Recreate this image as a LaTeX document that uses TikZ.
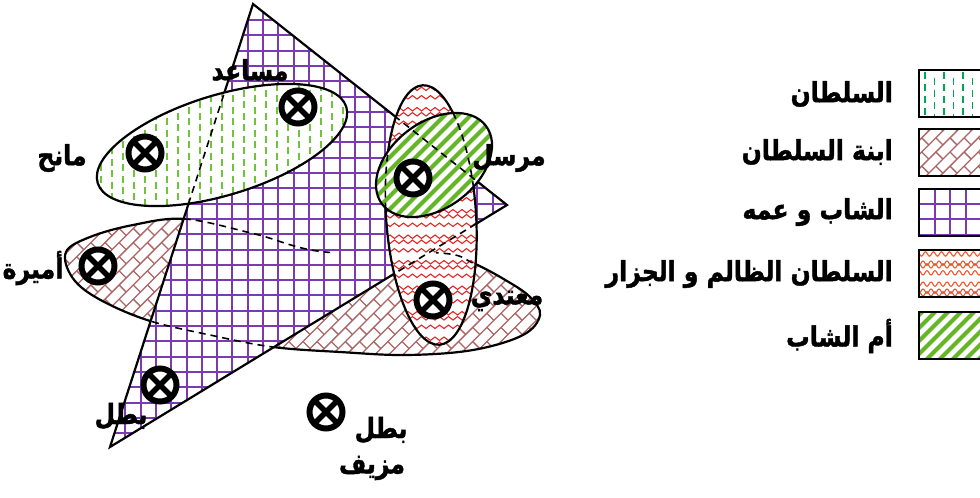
\documentclass[tikz,border=0pt]{standalone}
\usepackage{fontspec}
\usepackage{graphicx}
\newfontfamily\arabicfont[Script=Arabic, BoldFeatures={FakeBold=1.6}]{DejaVu Sans}
\TeXXeTstate=1
\usetikzlibrary{decorations.pathmorphing}
\newcommand\artxt[1]{\scalebox{1}[1.18]{\beginR #1\endR}}
\definecolor{sgreen}{RGB}{112,196,60}
\definecolor{sgreenL}{RGB}{0,166,81}
\definecolor{brickc}{RGB}{172,100,100}
\definecolor{gridc}{RGB}{122,58,178}
\definecolor{wavec}{RGB}{228,40,40}
\definecolor{wavecL}{RGB}{245,85,45}
\definecolor{stripec}{RGB}{100,182,38}
\tikzset{
  outline/.style={draw=black, line width=2.2pt},
  hid/.style={draw=black, line width=1.6pt, dash pattern=on 7pt off 5pt},
  legbox/.style={draw=black, line width=2.6pt},
  otimes/.style={circle, draw=black, line width=6pt, fill=white, minimum size=33pt, inner sep=0pt,
    path picture={\draw[line width=5.5pt] (path picture bounding box.north west) -- (path picture bounding box.south east)
      (path picture bounding box.north east) -- (path picture bounding box.south west);}},
  lbl/.style={font=\arabicfont\bfseries\fontsize{23.5pt}{26pt}\selectfont, inner sep=0pt},
  brickline/.style={draw=brickc, line width=1.3pt},
  gridline/.style={draw=gridc, line width=2pt},
  waveline/.style={draw=wavec, line width=1.1pt, decorate, decoration={snake, segment length=9pt, amplitude=1.7pt}},
  stripeline/.style={draw=stripec, line width=4pt},
  sdashline/.style={draw=sgreen, line width=1.5pt, dash pattern=on 7pt off 4.5pt},
}
\begin{document}
\begin{tikzpicture}[x=1pt,y=-1pt]
\useasboundingbox (0,0) rectangle (980,498);
\coordinate (tA) at (253,4);
\coordinate (tB) at (507,205);
\coordinate (tC) at (110,447);
\def\triP{(tA) -- (tB) -- (tC) -- cycle}
\def\brownP{plot[smooth cycle, tension=0.6] coordinates {(66,252) (90,237) (133,225) (185,219) (255,234) (325,252) (440,253) (473,263) (507,281) (530,297) (540,315) (523,335) (473,350) (407,355) (340,352) (273,347) (210,335) (147,320) (97,298) (72,277)}}
\def\sultanE{[rotate around={17:(222,145)}] (222,145) ellipse [x radius=130pt, y radius=50pt]}
\def\redE{[rotate around={3.7:(431,215)}] (431,215) ellipse [x radius=45pt, y radius=130pt]}
\def\motherE{[rotate around={37:(434,165)}] (434,165) ellipse [x radius=65pt, y radius=43pt]}

% ---- brown (ابنة السلطان)
\fill[white] \brownP;
\begin{scope}
  \clip \brownP;
  \begin{scope}[shift={(303,285)}, rotate=45]
    \path[brickline] foreach \j in {-26,...,26} {(-260,\j*10) -- (260,\j*10)};
    \path[brickline] foreach \j in {-26,-24,...,26} { foreach \i in {-13,...,13} {(\i*20,\j*10) -- ++(0,10)} };
    \path[brickline] foreach \j in {-25,-23,...,25} { foreach \i in {-13,...,13} {(\i*20+10,\j*10) -- ++(0,10)} };
  \end{scope}
\end{scope}
\draw[outline] \brownP;

% ---- triangle (الشاب و عمه)
\fill[white] \triP;
\begin{scope}
  \clip \triP;
  \path[gridline] foreach \k in {6,...,34} {(2.9+\k*15.3,0) -- (2.9+\k*15.3,460)};
  \path[gridline] foreach \k in {0,...,30} {(90,4.7+\k*15.3) -- (520,4.7+\k*15.3)};
\end{scope}
\draw[outline] \triP;
\begin{scope}
  \clip (0,0) rectangle (330,498);
  \clip \triP;
  \draw[hid] \brownP;
\end{scope}

% ---- sultan ellipse (السلطان)
\fill[white] \sultanE;
\begin{scope}
  \clip \sultanE;
  \path[sdashline] foreach \k in {-14,-12,...,14} {(222+\k*11,78) -- (222+\k*11,215)};
  \path[sdashline] foreach \k in {-13,-11,...,13} {(222+\k*11,83.75) -- (222+\k*11,215)};
  \draw[hid] \triP;
\end{scope}
\draw[outline] \sultanE;

% ---- red ellipse (السلطان الظالم و الجزار)
\fill[white] \redE;
\begin{scope}
  \clip \redE;
  \path[waveline] foreach \j in {0,...,33} {(372,82+\j*8.5) -- (492,82+\j*8.5)};
  \draw[hid] \triP;
\end{scope}
\begin{scope}
  \clip (436,0) rectangle (600,498);
  \clip \redE;
  \draw[hid] \brownP;
\end{scope}
\draw[outline] \redE;

% ---- mother ellipse (أم الشاب)
\fill[white] \motherE;
\begin{scope}
  \clip \motherE;
  \path[stripeline] foreach \k in {-14,...,14} {(434+\k*13-110,165+110) -- ++(220,-220)};
  \draw[hid] \triP;
  \draw[hid] \redE;
\end{scope}
\draw[outline] \motherE;

% ---- markers
\node[otimes] (m1) at (298,107) {};
\node[otimes] (m2) at (145,153) {};
\node[otimes] (m3) at (413,178) {};
\node[otimes] (m4) at (98,266) {};
\node[otimes] (m5) at (433,300) {};
\node[otimes] (m6) at (160,385) {};
\node[otimes] (m7) at (326,412) {};

% ---- labels
\node[lbl] (l1) at (250,70) {\artxt{مساعد}};
\node[lbl] (l2) at (62,158) {\artxt{مانح}};
\node[lbl] (l3) at (509,158) {\artxt{مرسل}};
\node[lbl] (l4) at (33,268) {\artxt{أميرة}};
\node[lbl] (l5) at (507,301) {\artxt{معتدي}};
\node[lbl] (l6) at (121,416) {\artxt{بطل}};
\node[lbl] (l7) at (381,430) {\artxt{بطل}};
\node[lbl] (l8) at (372,468) {\artxt{مزيف}};

% ---- legend
\begin{scope}
  \clip (919,70) rectangle (1000,117);
  \path[draw=sgreenL, line width=1.4pt, dash pattern=on 7pt off 5pt] foreach \k in {0,2,...,8} {(925+\k*9.5,72) -- (925+\k*9.5,117)};
  \path[draw=sgreenL, line width=1.4pt, dash pattern=on 7pt off 5pt] foreach \k in {1,3,...,7} {(925+\k*9.5,78) -- (925+\k*9.5,117)};
\end{scope}
\draw[legbox] (919,70) rectangle (1000,117);
\begin{scope}
  \clip (919,129) rectangle (1000,176);
  \begin{scope}[shift={(950,152)}, rotate=45]
    \path[brickline] foreach \j in {-7,...,7} {(-70,\j*10) -- (70,\j*10)};
    \path[brickline] foreach \j in {-6,-4,...,6} { foreach \i in {-4,...,4} {(\i*20,\j*10) -- ++(0,10)} };
    \path[brickline] foreach \j in {-7,-5,...,7} { foreach \i in {-4,...,4} {(\i*20+10,\j*10) -- ++(0,10)} };
  \end{scope}
\end{scope}
\draw[legbox] (919,129) rectangle (1000,176);
\begin{scope}
  \clip (919,189) rectangle (1000,236);
  \path[gridline] foreach \k in {0,...,5} {(935+\k*15.3,189) -- (935+\k*15.3,236)};
  \path[gridline] foreach \k in {0,...,2} {(919,204+\k*15.3) -- (1000,204+\k*15.3)};
\end{scope}
\draw[legbox] (919,189) rectangle (1000,236);
\begin{scope}
  \clip (919,250) rectangle (1000,297);
  \path[draw=wavecL, line width=1.1pt, decorate, decoration={snake, segment length=8pt, amplitude=2.2pt}] foreach \j in {0,...,6} {(915,254+\j*7) -- (1005,254+\j*7)};
\end{scope}
\draw[legbox] (919,250) rectangle (1000,297);
\begin{scope}
  \clip (919,312) rectangle (1000,359);
  \path[stripeline] foreach \k in {-6,...,6} {(950+\k*13-40,336+40) -- ++(80,-80)};
\end{scope}
\draw[legbox] (919,312) rectangle (1000,359);

\node[lbl, anchor=east] (g1) at (893,94) {\artxt{السلطان}};
\node[lbl, anchor=east] (g2) at (893,152) {\artxt{ابنة السلطان}};
\node[lbl, anchor=east] (g3) at (893,212) {\artxt{الشاب و عمه}};
\node[lbl, anchor=east] (g4) at (893,274) {\artxt{السلطان الظالم و الجزار}};
\node[lbl, anchor=east] (g5) at (893,336) {\artxt{أم الشاب}};
\end{tikzpicture}
\end{document}
